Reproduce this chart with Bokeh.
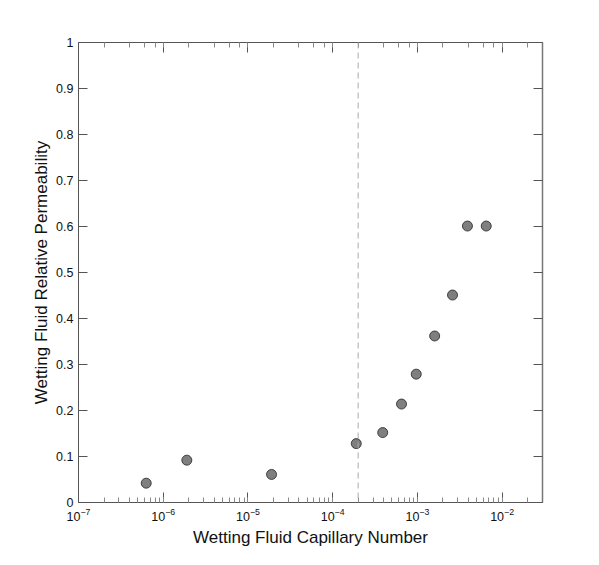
from bokeh.plotting import figure
from bokeh.models import (LogAxis, LinearAxis, Span, FixedTicker, CustomJSTickFormatter,
                          Range1d, LogTicker)
from bokeh.embed import file_html
from bokeh.resources import INLINE

# Data
capillary_number = [6.3e-7, 1.9e-6, 1.9e-5, 1.9e-4, 3.9e-4, 6.5e-4, 9.7e-4, 1.6e-3, 2.6e-3, 3.9e-3, 6.5e-3]
rel_perm = [0.042, 0.092, 0.061, 0.128, 0.152, 0.214, 0.279, 0.362, 0.451, 0.601, 0.601]
critical_ca = 2e-4
y_ticks = [0, 0.1, 0.2, 0.3, 0.4, 0.5, 0.6, 0.7, 0.8, 0.9, 1.0]
x_range = (1e-7, 3e-2)
y_range = (0, 1)

FONT = "Liberation Sans"
AX = "#555555"

p = figure(width=583, height=557, x_axis_type="log",
           x_range=Range1d(*x_range), y_range=Range1d(*y_range),
           output_backend="svg", toolbar_location=None,
           min_border_left=78, min_border_right=41, min_border_top=42, min_border_bottom=55)
p.grid.grid_line_color = None
p.outline_line_color = AX
p.background_fill_color = "white"
p.border_fill_color = "white"

# bottom axis
xa = p.xaxis[0]
xa.axis_label = "Wetting Fluid Capillary Number"
xa.axis_label_text_font = FONT
xa.axis_label_text_font_size = "17px"
xa.axis_label_text_font_style = "normal"
xa.axis_label_text_color = "#111111"
xa.axis_label_standoff = 4
xa.major_label_text_font = FONT
xa.major_label_text_font_size = "12.5px"
xa.major_label_text_color = "#111111"
xa.axis_line_color = AX
xa.major_tick_line_color = AX
xa.minor_tick_line_color = "#888888"
xa.major_tick_in = 10
xa.major_tick_out = 0
xa.minor_tick_in = 5
xa.minor_tick_out = 0
xa.major_label_standoff = 5

# left axis
ya = p.yaxis[0]
ya.axis_label = "Wetting Fluid Relative Permeability"
ya.axis_label_text_font = FONT
ya.axis_label_text_font_size = "17px"
ya.axis_label_text_font_style = "normal"
ya.axis_label_text_color = "#111111"
ya.axis_label_standoff = 2
ya.major_label_text_font = FONT
ya.major_label_text_font_size = "12.5px"
ya.major_label_text_color = "#111111"
ya.ticker = FixedTicker(ticks=y_ticks)
ya.formatter = CustomJSTickFormatter(code="return String(Math.round(tick*10)/10);")
ya.axis_line_color = AX
ya.major_tick_line_color = AX
ya.minor_tick_line_color = None
ya.major_tick_in = 9
ya.major_tick_out = 0
ya.major_label_standoff = 5

# top axis (ticks only)
top = LogAxis(ticker=LogTicker())
top.major_label_text_color = None
top.major_label_text_font_size = "8px"
top.axis_line_color = AX
top.major_tick_line_color = AX
top.minor_tick_line_color = "#888888"
top.major_tick_in = 10
top.major_tick_out = 0
top.minor_tick_in = 5
top.minor_tick_out = 0
top.major_label_standoff = 0
p.add_layout(top, "above")

# right axis (ticks only)
right = LinearAxis(ticker=FixedTicker(ticks=y_ticks))
right.major_label_text_color = None
right.major_label_text_font_size = "8px"
right.axis_line_color = "#777777"
right.axis_line_width = 1.5
right.major_tick_line_color = AX
right.minor_tick_line_color = None
right.major_tick_in = 9
right.major_tick_out = 0
right.major_label_standoff = 0
p.add_layout(right, "right")

# dashed critical line
p.add_layout(Span(location=critical_ca, dimension="height", line_color="#aaaaaa",
                  line_dash="6 4", line_width=1))

p.scatter(capillary_number, rel_perm, size=10, fill_color="#7f7f7f",
          line_color="#222222", line_width=0.8)

open("out.html", "w").write(file_html(p, INLINE))
